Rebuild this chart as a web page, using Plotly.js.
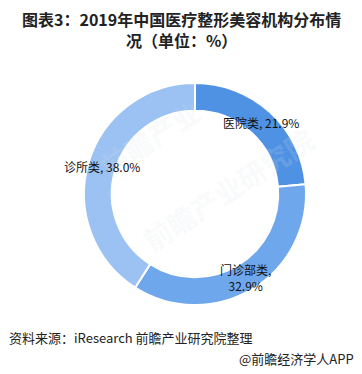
<!DOCTYPE html>
<html>
<head>
<meta charset="utf-8">
<script src="https://cdn.plot.ly/plotly-3.0.1.min.js"></script>
<style>
  html, body { margin: 0; padding: 0; background: #fff; }
  #chart { width: 362px; height: 374px; }
</style>
</head>
<body>
<div id="chart"></div>
<script>
const categories = ['医院类', '门诊部类', '诊所类'];
const values = [21.9, 32.9, 38.0];
const colors = ['#4f92e3', '#6fa7ec', '#9bc2f2'];
const titleLines = ['图表3：2019年中国医疗整形美容机构分布情', '况（单位：%）'];
const sourceText = '资料来源：iResearch 前瞻产业研究院整理';
const creditText = '@前瞻经济学人APP';

const W = 362, H = 374;
const cxPx = 195, cyPx = 194, rOut = 111, hole = 0.75;
const dom = {
  x: [(cxPx - rOut) / W, (cxPx + rOut) / W],
  y: [1 - (cyPx + rOut) / H, 1 - (cyPx - rOut) / H]
};

const total = values.reduce((a, b) => a + b, 0);
const rMid = rOut * (1 + hole) / 2;
const labelAnnots = [];
let cum = 0;
values.forEach((v, i) => {
  const mid = (cum + v / 2) / total * 2 * Math.PI;
  cum += v;
  const px = cxPx + rMid * Math.sin(mid);
  const py = cyPx - rMid * Math.cos(mid);
  const sep = categories[i].length > 3 ? ',<br>' : ', ';
  labelAnnots.push({
    x: px / W, y: 1 - py / H, xref: 'paper', yref: 'paper',
    text: categories[i] + sep + v.toFixed(1) + '%',
    showarrow: false, xanchor: 'center', yanchor: 'middle',
    font: { family: 'Noto Sans CJK SC, sans-serif', size: 12, color: '#111' }
  });
});

const watermark = (x, y, t, s) => ({
  x: x / W, y: 1 - y / H, xref: 'paper', yref: 'paper', text: t, showarrow: false,
  textangle: -33, font: { family: 'Noto Sans CJK SC, sans-serif', size: s, color: 'rgba(220,224,230,0.18)', weight: 'bold' }
});

const data = [{
  type: 'pie',
  labels: categories,
  values: values,
  hole: hole,
  sort: false,
  direction: 'clockwise',
  rotation: 0,
  textinfo: 'none',
  hoverinfo: 'label+percent',
  marker: { colors: colors, line: { color: '#ffffff', width: 2 } },
  domain: dom,
  showlegend: false
}];

const layout = {
  width: W, height: H,
  margin: { l: 0, r: 0, t: 0, b: 0 },
  paper_bgcolor: '#ffffff',
  plot_bgcolor: '#ffffff',
  showlegend: false,
  annotations: [
    watermark(150, 88, '前瞻产业', 28),
    watermark(228, 262, '前瞻产业研究院', 28),
    {
      x: 181 / W, y: 1 - 30 / H, xref: 'paper', yref: 'paper',
      xanchor: 'center', yanchor: 'middle', align: 'center', showarrow: false,
      text: '<b>' + titleLines.join('<br>') + '</b>',
      font: { family: 'Noto Sans CJK SC, sans-serif', size: 16, color: '#222' }
    },
    ...labelAnnots,
    {
      x: 7 / W, y: 1 - 337 / H, xref: 'paper', yref: 'paper', xanchor: 'left', yanchor: 'middle',
      text: sourceText, showarrow: false,
      font: { family: 'Noto Sans CJK SC, sans-serif', size: 13, color: '#222' }
    },
    {
      x: 356 / W, y: 1 - 358 / H, xref: 'paper', yref: 'paper', xanchor: 'right', yanchor: 'middle',
      text: creditText, showarrow: false,
      font: { family: 'Noto Sans CJK SC, sans-serif', size: 13, color: '#222' }
    }
  ]
};

Plotly.newPlot('chart', data, layout, { displayModeBar: false, staticPlot: true });
</script>
</body>
</html>
